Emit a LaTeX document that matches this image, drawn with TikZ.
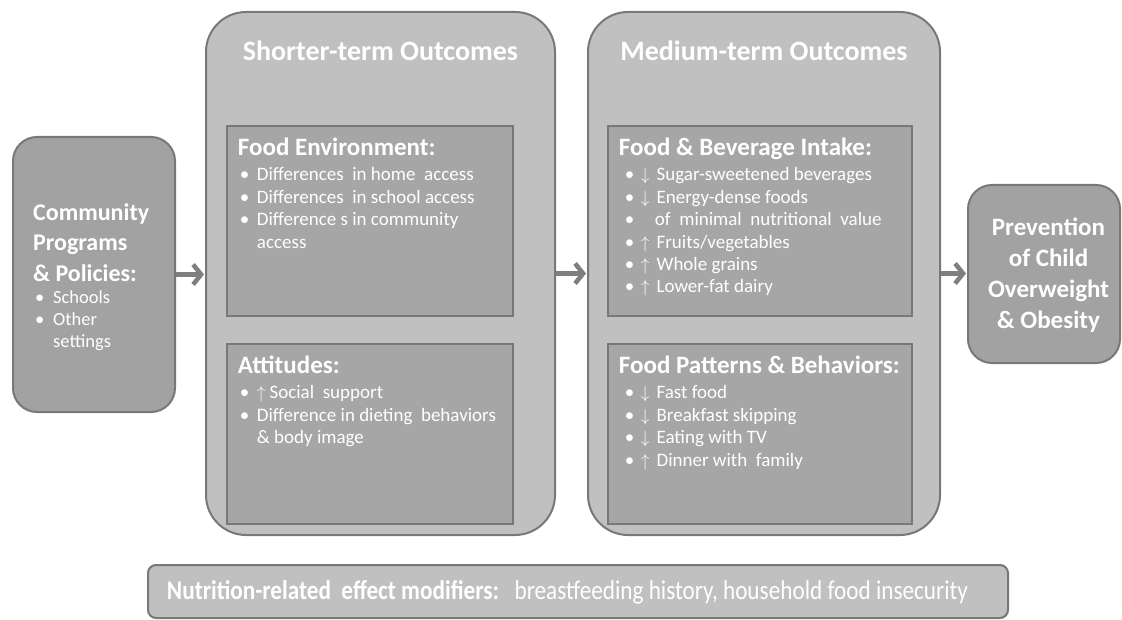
\documentclass[tikz,border=0pt]{standalone}
\usepackage{fontspec}
\setmainfont{Carlito}
\newfontfamily\narrowfont[FakeStretch=0.86]{Carlito}
\usepackage{xcolor}
\usetikzlibrary{arrows.meta}
\usetikzlibrary{positioning}
\definecolor{outerfill}{HTML}{C0C0C0}
\definecolor{innerfill}{HTML}{A6A6A6}
\definecolor{sidefill}{HTML}{A2A2A2}
\definecolor{edgegray}{HTML}{787878}
\definecolor{arrowgray}{HTML}{7F7F7F}
\newcommand{\bul}{\makebox[19pt][l]{\hspace{2pt}\textbullet}}
\newcommand{\mbul}{\makebox[22pt][l]{\hspace{6pt}\textbullet}}
\newcommand{\incr}{$\uparrow$\hspace{7pt}}
\newcommand{\decr}{$\downarrow$\hspace{7pt}}

\begin{document}
\begin{tikzpicture}[x=1pt, y=1pt,
    outer/.style={draw=edgegray, line width=2pt, fill=outerfill, rounded corners=40pt},
    inner/.style={draw=edgegray, line width=2.5pt, fill=innerfill},
    side/.style={draw=edgegray, line width=2pt, fill=sidefill, rounded corners=24pt},
    title/.style={text=white, font=\fontsize{28}{32}\selectfont\bfseries, inner sep=0pt},
    head/.style={text=white, font=\fontsize{25}{30.5}\selectfont\bfseries, align=left, inner sep=0pt},
    items/.style={text=white, font=\fontsize{19}{22.4}\selectfont, align=left, inner sep=0pt},
    flow/.style={draw=arrowgray, line width=4.5pt, -{Straight Barb[length=8pt, width=20pt]}, shorten >=1pt}]
    \useasboundingbox (0,0) rectangle (1122,-620);

    \node[side, minimum width=162pt, minimum height=275pt] (prog) at (94,-274.5) {};
    \node[outer, minimum width=349pt, minimum height=523pt] (short) at (380.5,-273.5) {};
    \node[outer, minimum width=352pt, minimum height=523pt] (medium) at (764,-273.5) {};
    \node[side, minimum width=152pt, minimum height=178pt] (prev) at (1044,-274) {};
    \node[inner, minimum width=286pt, minimum height=190pt] (env) at (370,-221) {};
    \node[inner, minimum width=286pt, minimum height=180pt] (att) at (370,-434) {};
    \node[inner, minimum width=304pt, minimum height=190pt] (intake) at (760,-221) {};
    \node[inner, minimum width=304pt, minimum height=180pt] (patterns) at (760,-434) {};
    \node[draw=edgegray, line width=2pt, fill=outerfill, rounded corners=8pt, minimum width=860pt, minimum height=53pt] (mods) at (578,-591.5) {};

    \node[title, below=30pt of short.north] (shorttitle) {Shorter-term Outcomes};
    \node[title, below=30pt of medium.north] (mediumtitle) {Medium-term Outcomes};

    \node[head, font=\fontsize{24}{30.5}\selectfont\bfseries, below right=67pt and 21pt of prog.north west] (proghead) {Community\\Programs\\\& Policies:};
    \node[items, font=\fontsize{18.5}{22}\selectfont, below right=9pt and 0pt of proghead.base west] (progitems) {\makebox[20pt][l]{\hspace{2pt}\textbullet}Schools\\\makebox[20pt][l]{\hspace{2pt}\textbullet}Other\\\makebox[20pt]{}settings};

    \node[head, below right=13pt and 12pt of env.north west] (envhead) {Food Environment:};
    \node[items, below right=12pt and 0pt of envhead.base west] (envitems) {\bul Differences\ \ in home\ \ access\\\bul Differences\ \ in school access\\\bul Difference s in community\\\makebox[19pt]{}access};

    \node[head, below right=13pt and 12pt of att.north west] (atthead) {Attitudes:};
    \node[items, below right=12pt and 0pt of atthead.base west] (attitems) {\bul $\uparrow$\hspace{4pt}Social\ \ support\\\bul Difference in dieting\ \ behaviors\\\makebox[19pt]{}\& body image};

    \node[head, below right=13pt and 12pt of intake.north west] (intakehead) {Food \& Beverage Intake:};
    \node[items, below right=12pt and 0pt of intakehead.base west] (intakeitems) {\mbul \decr Sugar-sweetened beverages\\\mbul \decr Energy-dense foods\\\mbul \hspace{14pt}of\ \ minimal\ \ nutritional\ \ value\\\mbul \incr Fruits/vegetables\\\mbul \incr Whole grains\\\mbul \incr Lower-fat dairy};

    \node[head, below right=13pt and 12pt of patterns.north west] (patternshead) {Food Patterns \& Behaviors:};
    \node[items, below right=12pt and 0pt of patternshead.base west] (patternsitems) {\mbul \decr Fast food\\\mbul \decr Breakfast skipping\\\mbul \decr Eating with TV\\\mbul \incr Dinner with\ \ family};

    \node[head, font=\fontsize{25}{31}\selectfont\bfseries, align=center] (prevtext) at (1048.5,-275.5) {Prevention\\of Child\\Overweight\\\& Obesity};

    \node[text=white, inner sep=0pt, font=\fontsize{27}{30}\selectfont\narrowfont] (modstext) at (567.5,-592) {\textbf{Nutrition-related\ \ effect modifiers:}\ \ \ breastfeeding history, household food insecurity};

    \draw[flow] (prog.east) -- (prog.east -| short.west);
    \draw[flow] (short.east) -- (short.east -| medium.west);
    \draw[flow] (medium.east) -- (medium.east -| prev.west);
\end{tikzpicture}
\end{document}
